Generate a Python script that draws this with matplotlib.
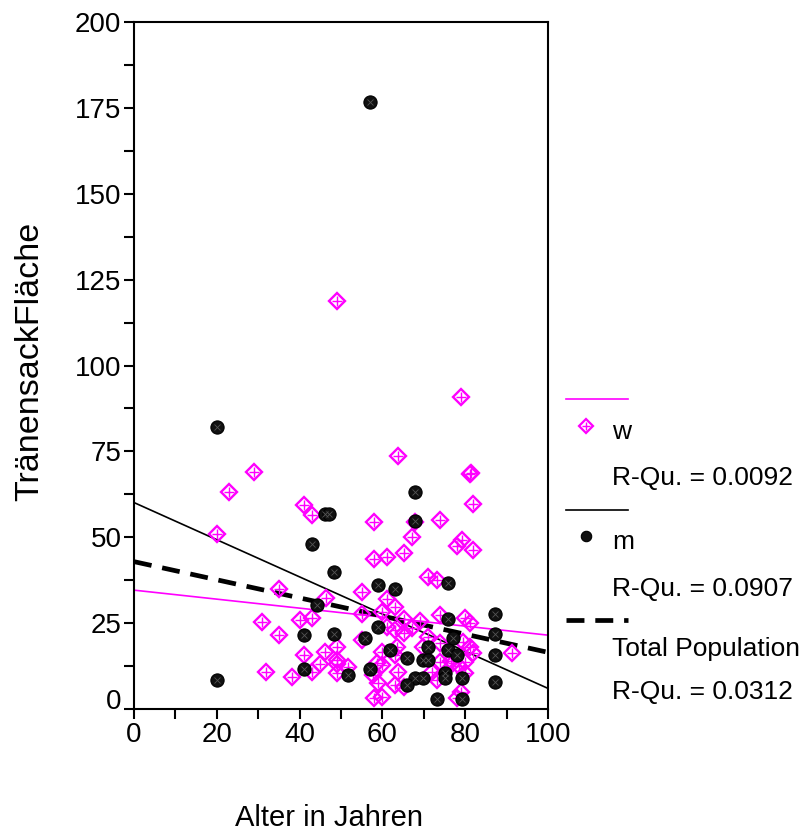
import matplotlib
matplotlib.use("Agg")
import matplotlib.pyplot as plt
from matplotlib.lines import Line2D
from matplotlib.transforms import ScaledTranslation
import numpy as np

plt.rcParams['font.family'] = ['Liberation Sans', 'DejaVu Sans']

# ---- data ----
w_age = [79.0, 63.8, 28.9, 81.1, 81.5, 22.9, 82.0, 41.0, 43.0, 57.9, 73.9, 67.9, 20.0, 67.1,
         77.9, 79.2, 82.0, 65.1, 57.9, 61.0, 71.0, 73.1, 35.0, 55.1, 46.4, 61.0, 63.0, 55.1,
         60.0, 73.9, 80.0, 81.2, 69.1, 65.1, 30.9, 40.2, 43.0, 61.0, 63.0, 65.1, 67.1, 71.1,
         35.0, 79.5, 81.2, 73.9, 49.0, 69.9, 63.5, 82.0, 91.2, 41.0, 46.2, 49.0, 59.8, 63.0,
         73.9, 77.1, 80.0, 44.9, 49.0, 51.8, 58.6, 59.8, 32.0, 43.0, 49.0, 57.8, 63.8, 71.9,
         38.2, 55.1, 73.1, 80.0, 59.0, 63.0, 65.1, 79.0, 57.9, 60.0, 77.9, 49.0, 78.5, 76.5]
w_area = [90.9, 73.7, 69.0, 68.4, 68.6, 63.2, 59.8, 59.3, 56.4, 54.4, 54.9, 54.5, 51.0, 50.1,
          47.4, 49.1, 46.2, 45.3, 43.8, 44.3, 38.5, 37.5, 35.0, 34.1, 32.2, 32.0, 29.7, 27.8,
          28.1, 27.3, 26.5, 24.9, 25.7, 26.1, 25.4, 25.9, 26.4, 24.0, 23.0, 22.0, 23.5, 21.1,
          21.4, 19.4, 18.1, 19.1, 18.1, 18.1, 18.1, 16.2, 16.2, 15.6, 16.6, 14.3, 16.7, 15.7,
          13.8, 13.3, 13.8, 13.1, 13.0, 12.1, 13.3, 12.8, 10.8, 10.8, 10.4, 9.9, 10.8, 10.8,
          9.4, 20.1, 8.4, 10.4, 7.5, 7.0, 6.5, 5.0, 3.1, 3.6, 3.1, 118.9, 12.5, 14.0]

m_age = [57.0, 20.0, 67.9, 46.2, 47.0, 67.9, 43.0, 48.2, 59.0, 63.0, 75.9, 44.2, 87.2, 75.9,
         59.0, 87.2, 41.0, 48.2, 55.8, 77.1, 61.8, 75.9, 71.1, 77.9, 87.2, 65.9, 69.9, 71.1,
         41.0, 57.1, 51.8, 75.1, 75.1, 67.9, 69.9, 65.9, 79.2, 87.2, 20.0, 73.1, 79.2]
m_area = [176.6, 82.1, 63.2, 56.9, 56.9, 54.7, 48.1, 39.9, 36.1, 35.0, 36.6, 30.2, 27.8, 26.3,
          23.9, 21.9, 21.4, 21.9, 20.6, 20.6, 17.2, 17.2, 18.1, 15.7, 15.6, 14.8, 14.3, 14.3,
          11.7, 11.7, 9.8, 10.4, 8.9, 8.9, 8.9, 7.0, 8.9, 7.9, 8.3, 3.0, 3.0]

# fit lines (intercept, slope) as drawn in the picture
fit_w = (34.6, -0.131)
fit_m = (60.1, -0.541)
fit_total = (42.9, -0.264)

r2_labels = ["R-Qu. = 0.0092", "R-Qu. = 0.0907", "R-Qu. = 0.0312"]
group_labels = ["w", "m", "Total Population"]

x_ticks = [0, 20, 40, 60, 80, 100]
y_ticks = [0, 25, 50, 75, 100, 125, 150, 175, 200]

MAG = '#ff00ff'
DASH = (3.8, 2.3)

fig = plt.figure(figsize=(8.08, 8.36), dpi=100)
W, H = 808, 836
ax = fig.add_axes([134 / W, 1 - 709 / H, (548 - 134) / W, (709 - 22) / H])
ax.set_xlim(0, 100)
ax.set_ylim(0, 200)

xs = np.array([0, 100])
ax.plot(xs, fit_w[0] + fit_w[1] * xs, color=MAG, lw=1.2, zorder=2)
ax.plot(xs, fit_m[0] + fit_m[1] * xs, color='black', lw=1.2, zorder=2)
ax.plot(xs, fit_total[0] + fit_total[1] * xs, color='black', lw=3.4,
        dashes=DASH, zorder=2)

# w markers: diamond with inner cross
ax.plot(w_age, w_area, ls='none', marker='D', ms=8.5, mfc='none', mec=MAG, mew=1.7, zorder=3)
ax.plot(w_age, w_area, ls='none', marker='+', ms=7, mec=MAG, mew=1.0, zorder=3)
# m markers: dark filled
ax.plot(m_age, m_area, ls='none', marker='o', ms=9.5, mfc='#111111', mec='#000000', mew=0.8, zorder=4)
ax.plot(m_age, m_area, ls='none', marker='x', ms=4, mec='#555555', mew=0.6, zorder=5)

ax.set_xticks(x_ticks)
ax.set_xticks(np.arange(10, 100, 20), minor=True)
ax.set_yticks(y_ticks)
ax.set_yticks(np.arange(12.5, 200, 25), minor=True)
ax.tick_params(which='both', direction='out', length=7, width=1.5, labelsize=20,
               top=False, right=False, pad=2)
for s in ax.spines.values():
    s.set_linewidth(1.5)

# shift the "0" y tick label up a bit as in the reference
lab0 = ax.yaxis.get_major_ticks()[0].label1
lab0.set_transform(lab0.get_transform() + ScaledTranslation(0, 10 / 100, fig.dpi_scale_trans))

fig.text(329 / W, 1 - 818 / H, "Alter in Jahren", ha='center', va='center', fontsize=21)
fig.text(30 / W, 1 - 361 / H, "TränensackFläche", ha='center', va='center', fontsize=24.5,
         rotation=90)

# legend (manual)
def fy(p):
    return 1 - p / H

lx0, lx1 = 566 / W, 628 / W
fig.add_artist(Line2D([lx0, lx1], [fy(399), fy(399)], color=MAG, lw=1.2, transform=fig.transFigure))
fig.add_artist(Line2D([586 / W], [fy(426)], ls='none', marker='D', ms=7.5, mfc='none', mec=MAG,
                      mew=1.6, transform=fig.transFigure))
fig.add_artist(Line2D([586 / W], [fy(426)], ls='none', marker='+', ms=6, mec=MAG,
                      mew=1.0, transform=fig.transFigure))
fig.add_artist(Line2D([lx0, lx1], [fy(510), fy(510)], color='black', lw=1.2, transform=fig.transFigure))
fig.add_artist(Line2D([586 / W], [fy(536)], ls='none', marker='o', ms=7.5, mfc='#111111', mec='black',
                      mew=0.8, transform=fig.transFigure))
fig.add_artist(Line2D([lx0, lx1], [fy(620), fy(620)], color='black', lw=3.4, dashes=DASH,
                      transform=fig.transFigure))

tx = 612 / W
fig.text(tx, fy(432), group_labels[0], ha='left', va='center', fontsize=19)
fig.text(tx, fy(478), r2_labels[0], ha='left', va='center', fontsize=19)
fig.text(tx, fy(542), group_labels[1], ha='left', va='center', fontsize=19)
fig.text(tx, fy(589), r2_labels[1], ha='left', va='center', fontsize=19)
fig.text(tx, fy(649), group_labels[2], ha='left', va='center', fontsize=19)
fig.text(tx, fy(692), r2_labels[2], ha='left', va='center', fontsize=19)

fig.savefig("out.png", dpi=100)
